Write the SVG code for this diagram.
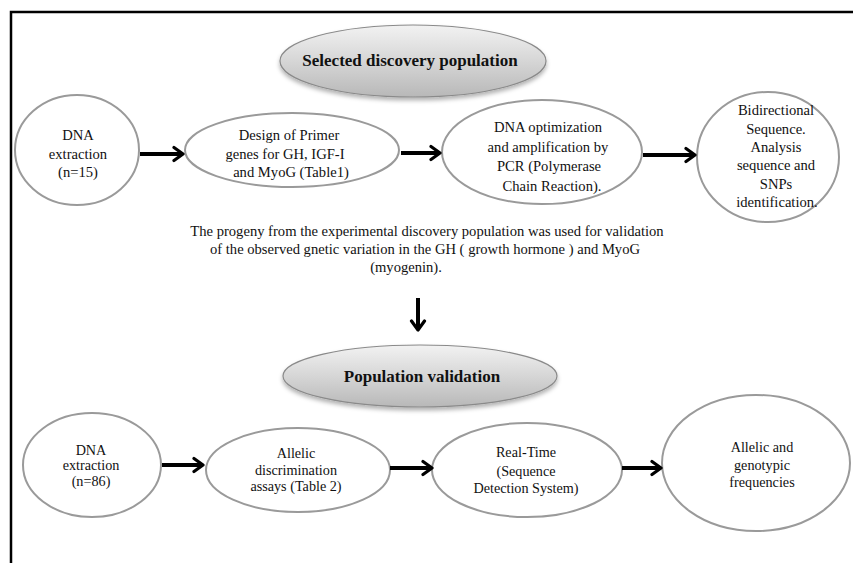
<svg xmlns="http://www.w3.org/2000/svg" width="853" height="563" viewBox="0 0 853 563">
<defs>
<style>
.node{fill:#ffffff;stroke:#9a9a9a;stroke-width:2}
.hdr{fill:url(#g);stroke:#8a8a8a;stroke-width:1.2;filter:url(#sh)}
.t{font-family:"Liberation Serif","Times New Roman",serif;font-size:14.6px;fill:#111;text-anchor:middle}
.s{font-size:14.2px}
.b{font-family:"Liberation Serif","Times New Roman",serif;font-size:17px;font-weight:bold;fill:#111;text-anchor:middle}
.c{stroke:#000;stroke-width:4;fill:none;marker-end:url(#ah)}
</style>
<linearGradient id="g" x1="0" y1="0" x2="0" y2="1">
<stop offset="0" stop-color="#f2f2f2"/>
<stop offset="0.5" stop-color="#d6d6d6"/>
<stop offset="1" stop-color="#b8b8b8"/>
</linearGradient>
<filter id="sh" x="-10%" y="-20%" width="120%" height="150%">
<feDropShadow dx="0" dy="3" stdDeviation="2" flood-color="#000" flood-opacity="0.3"/>
</filter>
<marker id="ah" markerUnits="userSpaceOnUse" viewBox="0 0 14 18" refX="12" refY="9" markerWidth="14" markerHeight="18" orient="auto">
<path d="M3,2.5 L12,9 L3,15.5" fill="none" stroke="#000" stroke-width="3.2" stroke-linecap="round" stroke-linejoin="round"/>
</marker>
</defs>
<rect x="0" y="0" width="853" height="563" fill="#ffffff"/>
<rect x="11" y="12" width="900" height="600" fill="none" stroke="#000" stroke-width="2.5"/>

<g id="hdr-discovery">
<ellipse class="hdr" cx="413" cy="61" rx="133" ry="36"/>
<text class="b" x="410" y="66">Selected discovery population</text>
</g>

<g id="n1">
<ellipse class="node" cx="77" cy="150" rx="62" ry="55"/>
<text class="t" x="78" y="140">DNA</text>
<text class="t" x="78" y="158.5">extraction</text>
<text class="t" x="78" y="177">(n=15)</text>
</g>

<g id="n2">
<ellipse class="node" cx="292" cy="150" rx="107" ry="37"/>
<text class="t" x="289" y="140">Design of  Primer</text>
<text class="t" x="285" y="158.5">genes  for  GH, IGF-I</text>
<text class="t" x="291" y="177">and MyoG (Table1)</text>
</g>

<g id="n3">
<ellipse class="node" cx="542" cy="152" rx="100" ry="52"/>
<text class="t" x="548" y="132">DNA  optimization</text>
<text class="t" x="548" y="151.5">and amplification  by</text>
<text class="t" x="549" y="171">PCR (Polymerase</text>
<text class="t" x="552" y="190.5">Chain Reaction).</text>
</g>

<g id="n4">
<ellipse class="node" cx="768" cy="157" rx="71" ry="65"/>
<text class="t" x="776" y="115">Bidirectional</text>
<text class="t" x="776" y="133.5">Sequence.</text>
<text class="t" x="776" y="152">Analysis</text>
<text class="t" x="776" y="170">sequence and</text>
<text class="t" x="776" y="188.5">SNPs</text>
<text class="t" x="777" y="207">identification.</text>
</g>

<g id="note">
<text class="t" x="427" y="236">The progeny from the experimental  discovery population was used for validation</text>
<text class="t" x="425" y="254">of the observed gnetic variation in the GH ( growth hormone ) and MyoG</text>
<text class="t" x="406" y="272">(myogenin).</text>
</g>

<g id="hdr-validation">
<ellipse class="hdr" cx="420" cy="376" rx="137" ry="31"/>
<text class="b" x="422" y="382">Population validation</text>
</g>

<g id="m1">
<ellipse class="node" cx="92" cy="465" rx="69" ry="52"/>
<text class="t s" x="91" y="454.5">DNA</text>
<text class="t s" x="91" y="470">extraction</text>
<text class="t s" x="91" y="486">(n=86)</text>
</g>

<g id="m2">
<ellipse class="node" cx="298" cy="470" rx="92" ry="42"/>
<text class="t s" x="296" y="457.5">Allelic</text>
<text class="t s" x="296" y="475">discrimination</text>
<text class="t s" x="296" y="491">assays (Table 2)</text>
</g>

<g id="m3">
<ellipse class="node" cx="527" cy="470" rx="95" ry="47"/>
<text class="t s" x="526" y="457">Real-Time</text>
<text class="t s" x="526" y="476">(Sequence</text>
<text class="t s" x="526" y="493">Detection System)</text>
</g>

<g id="m4">
<ellipse class="node" cx="756" cy="463" rx="94" ry="68"/>
<text class="t s" x="762" y="451.5">Allelic  and</text>
<text class="t s" x="762" y="470">genotypic</text>
<text class="t s" x="762" y="487">frequencies</text>
</g>

<g id="connectors">
<line class="c" x1="140" y1="154" x2="183" y2="154"/>
<line class="c" x1="401" y1="153" x2="440" y2="153"/>
<line class="c" x1="643" y1="155" x2="695" y2="155"/>
<line class="c" x1="418" y1="298" x2="418" y2="330"/>
<line class="c" x1="162" y1="465" x2="203" y2="465"/>
<line class="c" x1="390" y1="468" x2="432" y2="468"/>
<line class="c" x1="622" y1="468" x2="661" y2="468"/>
</g>
</svg>
